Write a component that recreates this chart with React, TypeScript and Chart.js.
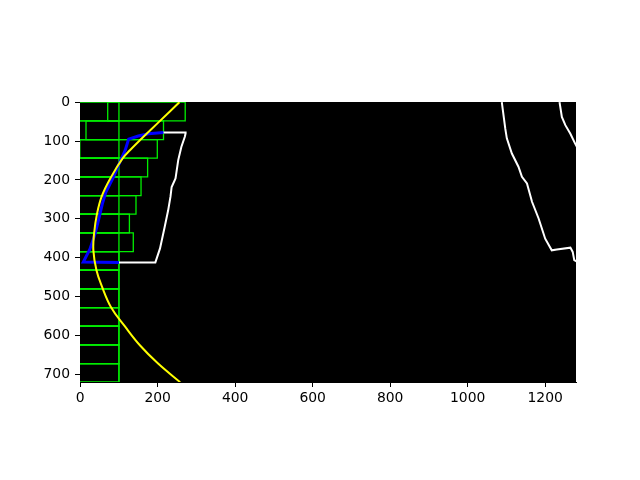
import { useEffect, useRef } from "react";
import { Chart, registerables } from "chart.js";

Chart.register(...registerables);

// Axis ticks (image pixel coordinates)
const xTicks = [0, 200, 400, 600, 800, 1000, 1200];
const yTicks = [0, 100, 200, 300, 400, 500, 600, 700];

// Sliding windows: row tops, height, half-width and centres (top row first)
const windowRowTops = [0, 48, 96, 144, 192, 240, 288, 336, 384, 432, 480, 528, 576, 624, 672];
const windowRowHeight = 48;
const windowMargin = 100;
const leftWindowCenters = [171, 115, 99, 74, 57, 44, 27, 37, 0, 0, 0, 0, 0, 0, 0];
const rightWindowCenters = [0, 0, 0, 0, 0, 0, 0, 0, 0, 0, 0, 0, 0, 0, 0];

// Left lane outline: part outside the windows (white) and inside them (blue)
const leftLaneWhite = [
  [214, 78], [272, 78], [272, 80], [270, 89], [261, 115], [253, 149], [246, 196],
  [236, 218], [233, 243], [227, 278], [218, 321], [206, 376], [194, 412], [100, 412],
];
const leftLaneBlue = [
  [215, 78], [176, 81], [150, 87], [125, 95], [116, 124], [99, 162], [86, 192],
  [66, 232], [57, 262], [48, 300], [38, 340], [25, 378], [8, 411], [100, 412],
];

// Right side lane pixels (white)
const rightLaneA = [
  [1088, 0], [1097, 68], [1101, 93], [1114, 132], [1131, 166], [1140, 192], [1153, 209],
  [1166, 256], [1183, 299], [1200, 351], [1217, 381], [1230, 379], [1265, 374],
  [1271, 385], [1275, 406], [1282, 410],
];
const rightLaneB = [
  [1237, 0], [1243, 38], [1252, 59], [1265, 81], [1277, 106], [1282, 115],
];

// Fitted curve (x, y)
const fitCurve = [
  [256, 0], [204, 50], [154, 98], [129, 123], [109, 145], [80, 192], [56, 241],
  [43, 289], [36, 336], [34, 381], [42, 432], [55, 471], [80, 528], [115, 576],
  [154, 625], [201, 672], [258, 720],
];

const toPts = (arr: number[][]) => arr.map(([x, y]) => ({ x, y }));

function rectPts(cx: number, top: number) {
  const l = cx - windowMargin;
  const r = cx + windowMargin;
  const b = top + windowRowHeight;
  return [
    { x: l, y: top },
    { x: r, y: top },
    { x: r, y: b },
    { x: l, y: b },
    { x: l, y: top },
  ];
}

const GREEN = "#00ee00";

function buildDatasets() {
  const ds: any[] = [];
  const lineBase = {
    showLine: true,
    pointRadius: 0,
    pointHoverRadius: 0,
    fill: false,
    clip: 0,
  };
  ds.push({
    ...lineBase,
    data: toPts(fitCurve),
    borderColor: "#ffff00",
    borderWidth: 2,
    tension: 0.4,
    order: 0,
  });
  ds.push({
    ...lineBase,
    data: toPts(leftLaneBlue),
    borderColor: "#0000ff",
    borderWidth: 3,
    tension: 0,
    order: 1,
  });
  [leftLaneWhite, rightLaneA, rightLaneB].forEach((arr) =>
    ds.push({
      ...lineBase,
      data: toPts(arr),
      borderColor: "#ffffff",
      borderWidth: 2,
      tension: 0,
      order: 2,
    })
  );
  windowRowTops.forEach((top, i) => {
    [leftWindowCenters[i], rightWindowCenters[i]].forEach((cx) =>
      ds.push({
        ...lineBase,
        data: rectPts(cx, top),
        borderColor: GREEN,
        borderWidth: 1.3,
        tension: 0,
        order: 3,
      })
    );
  });
  return ds;
}

const bgPlugin = {
  id: "imgbg",
  beforeDatasetsDraw(chart: any) {
    const { ctx, chartArea } = chart;
    ctx.save();
    ctx.fillStyle = "#000000";
    ctx.fillRect(chartArea.left, chartArea.top, chartArea.right - chartArea.left, chartArea.bottom - chartArea.top);
    ctx.restore();
  },
};

const tickFont = { family: "'DejaVu Sans', sans-serif", size: 13.9 };
const plainLabel = (v: any) => String(v);

export default function App() {
  const ref = useRef<HTMLCanvasElement>(null);
  useEffect(() => {
    if (!ref.current) return;
    const chart = new Chart(ref.current, {
      type: "scatter",
      data: { datasets: buildDatasets() },
      options: {
        animation: false,
        responsive: false,
        events: [],
        layout: { padding: { left: 0, right: 64, top: 102, bottom: 0 } },
        plugins: { legend: { display: false }, tooltip: { enabled: false } },
        scales: {
          x: {
            type: "linear",
            position: "bottom",
            min: -0.5,
            max: 1279.5,
            afterBuildTicks: (s: any) => {
              s.ticks = xTicks.map((v) => ({ value: v }));
            },
            afterFit: (s: any) => {
              s.height = 98;
            },
            ticks: { color: "#000", font: tickFont, padding: 3, maxRotation: 0, autoSkip: false, callback: plainLabel },
            grid: { display: true, drawOnChartArea: false, drawTicks: true, tickLength: 5, color: "#000", tickColor: "#000", tickWidth: 1 },
            border: { display: true, color: "#000", width: 1 },
          },
          y: {
            type: "linear",
            position: "left",
            reverse: true,
            min: -0.5,
            max: 719.5,
            afterBuildTicks: (s: any) => {
              s.ticks = yTicks.map((v) => ({ value: v }));
            },
            afterFit: (s: any) => {
              s.width = 80;
            },
            ticks: { color: "#000", font: tickFont, padding: 5, autoSkip: false, callback: plainLabel },
            grid: { display: true, drawOnChartArea: false, drawTicks: true, tickLength: 5, color: "#000", tickColor: "#000", tickWidth: 1 },
            border: { display: true, color: "#000", width: 1 },
          },
        },
      } as any,
      plugins: [bgPlugin],
    });
    return () => chart.destroy();
  }, []);
  return (
    <div style={{ position: "fixed", left: 0, top: 0, width: 640, height: 480, background: "#fff" }}>
      <canvas ref={ref} width={640} height={480} style={{ width: 640, height: 480, display: "block" }} />
    </div>
  );
}
